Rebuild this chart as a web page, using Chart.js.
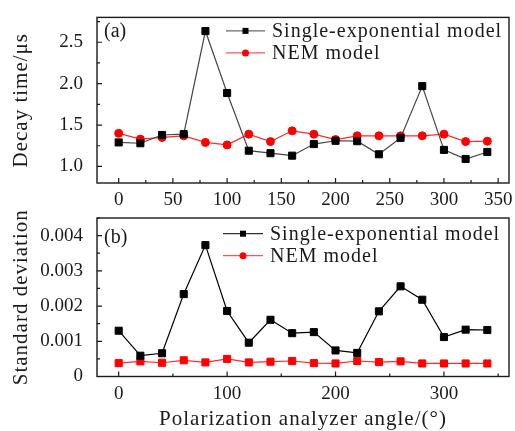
<!DOCTYPE html>
<html>
<head>
<meta charset="utf-8">
<script src="https://cdn.jsdelivr.net/npm/chart.js@4/dist/chart.umd.min.js"></script>
<style>
  html, body { margin: 0; padding: 0; background: #fff; }
  #wrap { position: relative; width: 515px; height: 431px; }
  .panel { position: absolute; left: 0; width: 515px; }
  #boxA { top: 0; height: 215px; }
  #boxB { top: 200px; height: 231px; }
</style>
</head>
<body>
<div id="wrap">
  <div class="panel" id="boxA"><canvas id="chartA"></canvas></div>
  <div class="panel" id="boxB"><canvas id="chartB"></canvas></div>
</div>
<script>
const angles = [0, 20, 40, 60, 80, 100, 120, 140, 160, 180, 200, 220, 240, 260, 280, 300, 320, 340];

// (a) decay time, μs
const decaySingle = [1.29, 1.28, 1.38, 1.39, 2.635, 1.887, 1.19, 1.16, 1.13, 1.27, 1.31, 1.305, 1.147, 1.345, 1.97, 1.20, 1.09, 1.175];
const decayNEM = [1.40, 1.33, 1.35, 1.37, 1.29, 1.26, 1.39, 1.30, 1.43, 1.39, 1.325, 1.37, 1.37, 1.37, 1.37, 1.39, 1.30, 1.305];

// (b) standard deviation
const sdSingle = [0.0013, 0.00059, 0.00066, 0.00234, 0.00373, 0.00186, 0.00096, 0.00161, 0.00123, 0.00126, 0.00074, 0.00067, 0.00185, 0.00256, 0.00218, 0.00112, 0.00133, 0.00132];
const sdNEM = [0.00038, 0.00043, 0.00039, 0.00046, 0.0004, 0.0005, 0.0004, 0.00042, 0.00044, 0.00038, 0.00037, 0.00044, 0.00041, 0.00043, 0.00037, 0.00037, 0.00037, 0.00037];

const xTicksA = [0, 50, 100, 150, 200, 250, 300, 350];
const yTicksA = [1.0, 1.5, 2.0, 2.5];
const xTicksB = [0, 100, 200, 300];
const yTicksB = [0, 0.001, 0.002, 0.003, 0.004];

const labelSingle = 'Single-exponential model';
const labelNEM = 'NEM model';
const titleA = 'Decay time/μs';
const titleB = 'Standard deviation';
const titleX = 'Polarization analyzer angle/(°)';

const FONT = '"Liberation Serif", "Times New Roman", serif';
const INK = '#1a1a1a';

// frame, inward tick marks, axis titles, legend with line + marker, panel tag
const decor = {
  id: 'decor',
  afterDatasetsDraw(chart, args, opts) {
    const { ctx, chartArea: a, scales: { x, y } } = chart;
    ctx.save();
    ctx.strokeStyle = INK;
    ctx.lineWidth = 1.2;

    const minorVals = (scale, step) => {
      const out = [];
      const majors = scale.ticks.map(t => t.value);
      for (let k = Math.ceil(scale.min / step); k * step <= scale.max + 1e-12; k++) {
        const v = k * step;
        if (!majors.some(m => Math.abs(m - v) < step / 10)) out.push(v);
      }
      return out;
    };

    ctx.beginPath();
    x.ticks.forEach(t => {
      const px = x.getPixelForValue(t.value);
      ctx.moveTo(px, a.bottom); ctx.lineTo(px, a.bottom - 5);
    });
    minorVals(x, opts.xMinor).forEach(v => {
      const px = x.getPixelForValue(v);
      ctx.moveTo(px, a.bottom); ctx.lineTo(px, a.bottom - 3);
    });
    y.ticks.forEach(t => {
      const py = y.getPixelForValue(t.value);
      ctx.moveTo(a.left, py); ctx.lineTo(a.left + 5, py);
    });
    minorVals(y, opts.yMinor).forEach(v => {
      const py = y.getPixelForValue(v);
      ctx.moveTo(a.left, py); ctx.lineTo(a.left + 3, py);
    });
    ctx.stroke();

    ctx.lineWidth = 1.4;
    ctx.strokeRect(a.left, a.top, a.right - a.left, a.bottom - a.top);

    // the serif here runs narrower than the typeset labels, so open it up a little
    ctx.letterSpacing = '1px';
    ctx.fillStyle = INK;
    ctx.textBaseline = 'middle';

    // axis titles
    ctx.font = '21px ' + FONT;
    ctx.textAlign = 'center';
    ctx.save();
    ctx.translate(opts.yTitleX, (a.top + a.bottom) / 2);
    ctx.rotate(-Math.PI / 2);
    ctx.fillText(opts.yTitle, 0, 0);
    ctx.restore();
    if (opts.xTitle) {
      ctx.fillText(opts.xTitle, (a.left + a.right) / 2, a.bottom + opts.xTitleDy);
    }

    // panel tag
    ctx.letterSpacing = '0px';
    ctx.font = '20px ' + FONT;
    ctx.textAlign = 'left';
    ctx.fillText(opts.tag, a.left + 7, a.top + opts.tagY);

    // legend
    ctx.letterSpacing = '1px';
    const lg = opts.legend;
    chart.data.datasets.forEach((ds, i) => {
      const ly = a.top + lg.y + i * lg.gap;
      const x0 = a.left + lg.x;
      ctx.strokeStyle = ds.borderColor;
      ctx.lineWidth = 1;
      ctx.beginPath();
      ctx.moveTo(x0, ly); ctx.lineTo(x0 + lg.len, ly);
      ctx.stroke();
      ctx.fillStyle = ds.pointBackgroundColor;
      const cx = x0 + lg.len / 2;
      if (lg.markers[i] === 'circle') {
        ctx.beginPath();
        ctx.arc(cx, ly, 3.5, 0, Math.PI * 2);
        ctx.fill();
      } else {
        ctx.fillRect(cx - 3, ly - 3, 6, 6);
      }
      ctx.fillStyle = INK;
      ctx.fillText(ds.label, x0 + lg.len + 7, ly + 1);
    });
    ctx.restore();
  }
};

function series(label, data, line, fill, style, radius) {
  return {
    label,
    data: angles.map((a, i) => ({ x: a, y: data[i] })),
    borderColor: line,
    borderWidth: 1.2,
    pointStyle: style,
    pointRadius: radius,
    pointHoverRadius: radius,
    pointBackgroundColor: fill,
    pointBorderColor: fill,
    pointBorderWidth: 1,
    tension: 0,
    clip: false
  };
}

function axes(xMin, xMax, xTicks, yMin, yMax, yTicks, fmt, xHeight) {
  const tickFont = { family: FONT, size: 19 };
  return {
    x: {
      type: 'linear', min: xMin, max: xMax,
      afterBuildTicks: s => { s.ticks = xTicks.map(v => ({ value: v })); },
      afterFit: s => { s.height = xHeight; },
      grid: { display: false }, border: { display: false },
      ticks: { font: tickFont, color: INK, padding: -2, maxRotation: 0, autoSkip: false }
    },
    y: {
      type: 'linear', min: yMin, max: yMax,
      afterBuildTicks: s => { s.ticks = yTicks.map(v => ({ value: v })); },
      afterFit: s => { s.width = 97; },
      grid: { display: false }, border: { display: false },
      ticks: { font: tickFont, color: INK, padding: 6, callback: fmt }
    }
  };
}

new Chart(document.getElementById('chartA'), {
  type: 'line',
  data: {
    datasets: [
      series(labelSingle, decaySingle, '#444', '#000', 'rect', 5),
      series(labelNEM, decayNEM, '#ff2a2a', '#ff0000', 'circle', 4)
    ]
  },
  options: {
    responsive: true, maintainAspectRatio: false, animation: false,
    layout: { padding: { top: 14, right: 4, left: 0, bottom: 0 } },
    scales: axes(-20, 360, xTicksA, 0.8, 2.8, yTicksA, v => v.toFixed(1), 32),
    plugins: {
      legend: { display: false }, tooltip: { enabled: false },
      decor: {
        tag: '(a)', tagY: 14, xMinor: 25, yMinor: 0.25,
        yTitle: titleA, yTitleX: 21,
        legend: { x: 129, y: 13.5, gap: 22, len: 39, markers: ['rect', 'circle'] }
      }
    }
  },
  plugins: [decor]
});

new Chart(document.getElementById('chartB'), {
  type: 'line',
  data: {
    datasets: [
      series(labelSingle, sdSingle, '#000', '#000', 'rect', 5),
      series(labelNEM, sdNEM, '#ff2a2a', '#ff0000', 'rect', 5)
    ]
  },
  options: {
    responsive: true, maintainAspectRatio: false, animation: false,
    layout: { padding: { top: 18, right: 4, left: 0, bottom: 0 } },
    scales: axes(-20, 360, xTicksB, 0, 0.0045, yTicksB, v => (v === 0 ? '0' : v.toFixed(3)), 54.5),
    plugins: {
      legend: { display: false }, tooltip: { enabled: false },
      decor: {
        tag: '(b)', tagY: 20, xMinor: 50, yMinor: 0.0005,
        yTitle: titleB, yTitleX: 21, xTitle: titleX, xTitleDy: 42.5,
        legend: { x: 126, y: 15.7, gap: 22, len: 40, markers: ['rect', 'circle'] }
      }
    }
  },
  plugins: [decor]
});
</script>
</body>
</html>
